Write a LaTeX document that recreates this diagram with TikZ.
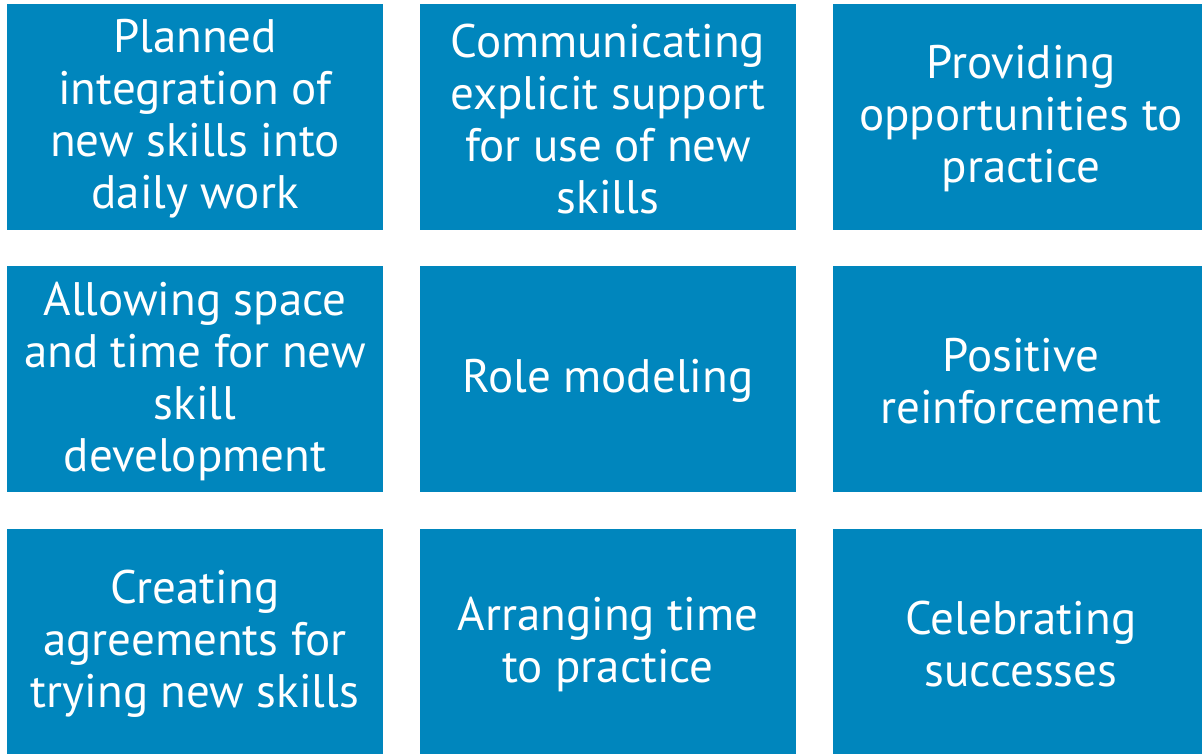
\documentclass[tikz,border=0pt]{standalone}
\usepackage{fontspec}
\setmainfont{PT Sans}
\definecolor{tileblue}{RGB}{0,134,189}
\begin{document}
\begin{tikzpicture}[x=1pt,y=-1pt,
  tile/.style={fill=tileblue, draw=none, inner sep=0pt,
    minimum width=376pt, minimum height=226pt},
  label/.style={text=white, align=center, inner sep=0pt,
    font=\fontsize{47}{52}\selectfont}]
\useasboundingbox (0,0) rectangle (1202,753);
\begin{scope}
\clip (0,0) rectangle (1202,753);
% tiles
\foreach \cx/\cy/\n in {195/117/a1, 608/117/a2, 1021/117/a3,
                        195/379/b1, 608/379/b2, 1021/379/b3,
                        195/642/c1, 608/642/c2, 1021/642/c3}
  \node[tile] (\n) at (\cx,\cy) {};
\end{scope}
% captions
\node[label] at ([yshift=-2pt]a1.center) {Planned\\integration of\\new skills into\\daily work};
\node[label] at ([yshift=-2pt]a2.center) {Communicating\\explicit support\\for use of new\\skills};
\node[label] at ([yshift=-2pt]a3.center) {Providing\\opportunities to\\practice};
\node[label] at ([yshift=-2pt]b1.center) {Allowing space\\and time for new\\skill\\development};
\node[label] at ([yshift=-2pt]b2.center) {Role modeling};
\node[label] at ([yshift=-2pt]b3.center) {Positive\\reinforcement};
\node[label] at ([yshift=-2pt]c1.center) {Creating\\agreements for\\trying new skills};
\node[label] at ([yshift=-2pt]c2.center) {Arranging time\\to practice};
\node[label] at ([yshift=-2pt]c3.center) {Celebrating\\successes};
\end{tikzpicture}
\end{document}
